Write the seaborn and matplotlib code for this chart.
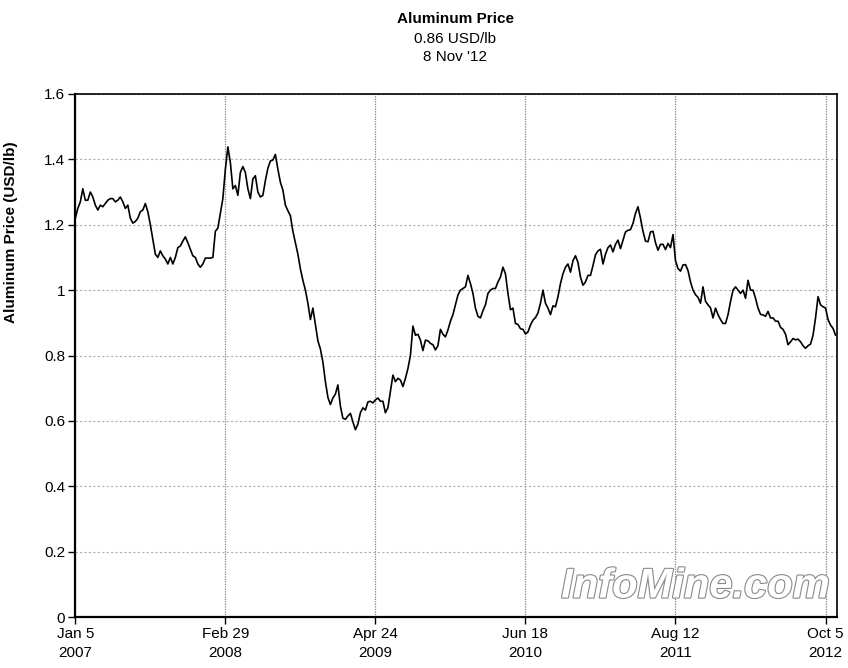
import numpy as np
import pandas as pd
import seaborn as sns
import matplotlib.pyplot as plt
import matplotlib.dates as mdates
import matplotlib.patheffects as pe
from matplotlib.ticker import FuncFormatter

# weekly aluminum price (USD/lb), first week = Jan 5 2007
prices = [
    1.22, 1.25, 1.27, 1.31, 1.275, 1.275, 1.30, 1.285, 1.26, 1.245,
    1.26, 1.255, 1.265, 1.275, 1.28, 1.28, 1.27, 1.275, 1.285, 1.27,
    1.25, 1.26, 1.22, 1.205, 1.21, 1.22, 1.24, 1.245, 1.265, 1.24,
    1.20, 1.155, 1.11, 1.10, 1.12, 1.105, 1.095, 1.08, 1.10, 1.08,
    1.10, 1.13, 1.135, 1.15, 1.163, 1.145, 1.125, 1.105, 1.10, 1.08,
    1.07, 1.08, 1.098, 1.098, 1.098, 1.10, 1.18, 1.19, 1.235, 1.28,
    1.37, 1.438, 1.39, 1.31, 1.32, 1.29, 1.36, 1.378, 1.36, 1.31,
    1.28, 1.34, 1.35, 1.30, 1.285, 1.29, 1.335, 1.373, 1.395, 1.398,
    1.415, 1.37, 1.33, 1.306, 1.26, 1.243, 1.228, 1.18, 1.145, 1.11,
    1.065, 1.03, 1.00, 0.96, 0.91, 0.945, 0.895, 0.845, 0.82, 0.78,
    0.72, 0.672, 0.65, 0.67, 0.682, 0.71, 0.645, 0.608, 0.605, 0.615,
    0.623, 0.597, 0.573, 0.59, 0.625, 0.64, 0.633, 0.658, 0.66, 0.655,
    0.664, 0.67, 0.66, 0.66, 0.625, 0.64, 0.69, 0.74, 0.72, 0.73,
    0.725, 0.705, 0.73, 0.76, 0.80, 0.89, 0.862, 0.865, 0.847, 0.815,
    0.847, 0.845, 0.837, 0.833, 0.817, 0.83, 0.88, 0.865, 0.857, 0.878,
    0.905, 0.925, 0.955, 0.985, 1.0, 1.005, 1.01, 1.045, 1.02, 0.99,
    0.945, 0.92, 0.915, 0.937, 0.955, 0.99, 1.0, 1.005, 1.005, 1.025,
    1.04, 1.07, 1.05, 0.99, 0.94, 0.945, 0.898, 0.895, 0.882, 0.88,
    0.866, 0.872, 0.893, 0.908, 0.916, 0.93, 0.96, 1.0, 0.96, 0.945,
    0.925, 0.952, 0.949, 0.98, 1.02, 1.05, 1.07, 1.08, 1.055, 1.09,
    1.105, 1.085, 1.04, 1.015, 1.025, 1.045, 1.045, 1.075, 1.108, 1.12,
    1.125, 1.08, 1.11, 1.13, 1.138, 1.117, 1.14, 1.153, 1.127, 1.153,
    1.178, 1.183, 1.185, 1.204, 1.235, 1.255, 1.22, 1.18, 1.15, 1.148,
    1.178, 1.18, 1.145, 1.122, 1.14, 1.14, 1.124, 1.143, 1.13, 1.17,
    1.09, 1.066, 1.058, 1.077, 1.078, 1.06, 1.025, 1.0, 0.986, 0.978,
    0.96, 1.01, 0.966, 0.955, 0.946, 0.915, 0.945, 0.925, 0.91, 0.898,
    0.898, 0.925, 0.965, 1.0, 1.01, 1.0, 0.99, 1.0, 0.975, 1.03,
    1.0, 1.0, 0.975, 0.945, 0.926, 0.924, 0.92, 0.935, 0.915, 0.915,
    0.905, 0.905, 0.886, 0.88, 0.865, 0.833, 0.842, 0.852, 0.848, 0.85,
    0.842, 0.83, 0.822, 0.83, 0.835, 0.862, 0.915, 0.98, 0.955, 0.949,
    0.945, 0.91, 0.893, 0.883, 0.862,
]
dates = pd.date_range("2007-01-05", periods=len(prices), freq="7D")

tick_dates = ["2007-01-05", "2008-02-29", "2009-04-24", "2010-06-18", "2011-08-12", "2012-10-05"]
y_ticks = [0, 0.2, 0.4, 0.6, 0.8, 1.0, 1.2, 1.4, 1.6]

title_lines = ["Aluminum Price", "0.86 USD/lb", "8 Nov '12"]

df = pd.DataFrame({"date": dates, "price": prices})

sns.set_style("white")
plt.rcParams["font.family"] = ["Liberation Sans", "DejaVu Sans"]
plt.rcParams["text.color"] = "black"
plt.rcParams["axes.labelcolor"] = "black"
plt.rcParams["xtick.color"] = "black"
plt.rcParams["ytick.color"] = "black"

fig = plt.figure(figsize=(8.48, 6.68), dpi=100)
ax = fig.add_axes([0.0884, 0.0763, 0.8986, 0.7830])

sns.lineplot(data=df, x="date", y="price", color="black", linewidth=1.2, ax=ax)

ax.set_xlim(pd.Timestamp("2007-01-04"), pd.Timestamp("2012-11-06"))
ax.set_ylim(0, 1.6)
ax.set_yticks(y_ticks)
ax.yaxis.set_major_formatter(FuncFormatter(lambda v, p: f"{v:g}"))
ax.set_xticks(pd.to_datetime(tick_dates))
ax.xaxis.set_major_formatter(mdates.DateFormatter("%b %-d\n%Y"))
for lab in ax.get_xticklabels():
    lab.set_linespacing(1.45)

ax.grid(True, axis="y", color="#b0b0b0", linestyle=(0, (2, 2)), linewidth=0.8)
ax.grid(True, axis="x", color="#808080", linestyle=(0, (1, 1)), linewidth=0.9)
ax.tick_params(axis="both", direction="out", length=5, width=1, color="black",
               labelsize=11, pad=2, bottom=True, left=True)
for s in ax.spines.values():
    s.set_color("black")
    s.set_linewidth(1.2)
ax.spines["left"].set_linewidth(1.6)
ax.spines["bottom"].set_linewidth(1.6)

ax.set_xlabel("")
ax.set_ylabel("Aluminum Price (USD/lb)", fontsize=11, fontweight="bold")
ax.yaxis.set_label_coords(-0.075, 0.736)

fig.text(0.537, 0.972, title_lines[0], ha="center", va="center", fontsize=11, fontweight="bold")
fig.text(0.537, 0.942, title_lines[1], ha="center", va="center", fontsize=11)
fig.text(0.537, 0.915, title_lines[2], ha="center", va="center", fontsize=11)

# watermark
ax.text(0.99, 0.02, "InfoMine.com", transform=ax.transAxes, ha="right", va="bottom",
        fontsize=30, fontstyle="italic", fontweight="bold", color="white",
        path_effects=[pe.withStroke(linewidth=1.6, foreground="#8a8a8a")])

fig.savefig("out.png", dpi=100)
